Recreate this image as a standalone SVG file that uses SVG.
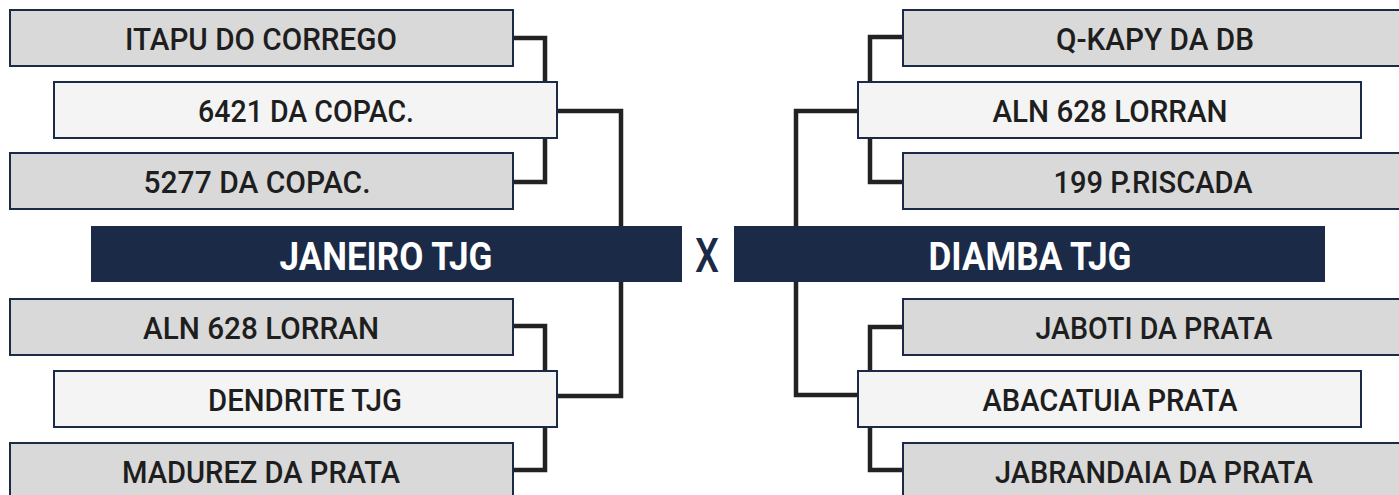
<svg xmlns="http://www.w3.org/2000/svg" width="1399" height="495" viewBox="0 0 1399 495">
<style>
.g{fill:#d9d9d9;stroke:#1b2a47;stroke-width:2}
.w{fill:#f4f4f4;stroke:#1b2a47;stroke-width:2}
.bar{fill:#1b2a47}
.t{font-family:Roboto,"Liberation Sans",sans-serif;font-weight:500;font-size:32px;fill:#1e1e1e;text-anchor:middle}
.tb{font-family:Roboto,"Liberation Sans",sans-serif;font-weight:700;font-size:39px;fill:#ffffff;text-anchor:middle}
.x{font-family:Roboto,"Liberation Sans",sans-serif;font-weight:500;font-size:48px;fill:#1b2a47;text-anchor:middle}
.c{fill:none;stroke:#222;stroke-width:4.5;stroke-linejoin:miter;stroke-linecap:butt}
</style>
<rect width="1399" height="495" fill="#ffffff"/>
<g id="connectors">
<path class="c" d="M513,38 H545 V82"/>
<path class="c" d="M513,182 H545 V138"/>
<path class="c" d="M557,111 H621 V226"/>
<path class="c" d="M621,282 V396 H557"/>
<path class="c" d="M513,326 H545 V371"/>
<path class="c" d="M513,470 H545 V427"/>
<path class="c" d="M903,37 H870 V82"/>
<path class="c" d="M903,182 H870 V138"/>
<path class="c" d="M858,111 H796 V226"/>
<path class="c" d="M796,282 V395 H858"/>
<path class="c" d="M903,327 H870 V371"/>
<path class="c" d="M903,470 H870 V427"/>
</g>
<g id="n-itapu"><rect class="g" x="10" y="10" width="503" height="56"/><text class="t" x="261" y="50" textLength="272" lengthAdjust="spacingAndGlyphs">ITAPU DO CORREGO</text></g>
<g id="n-6421"><rect class="w" x="54" y="82" width="503" height="56"/><text class="t" x="306" y="122" textLength="216" lengthAdjust="spacingAndGlyphs">6421 DA COPAC.</text></g>
<g id="n-5277"><rect class="g" x="10" y="153" width="503" height="56"/><text class="t" x="257" y="193" textLength="227" lengthAdjust="spacingAndGlyphs">5277 DA COPAC.</text></g>
<g id="n-janeiro"><rect class="bar" x="91" y="226" width="591" height="56"/><text class="tb" x="386" y="270" textLength="213" lengthAdjust="spacingAndGlyphs">JANEIRO TJG</text></g>
<g id="n-aln-left"><rect class="g" x="10" y="299" width="503" height="56"/><text class="t" x="261" y="339" textLength="236" lengthAdjust="spacingAndGlyphs">ALN 628 LORRAN</text></g>
<g id="n-dendrite"><rect class="w" x="54" y="371" width="503" height="56"/><text class="t" x="305" y="411" textLength="194" lengthAdjust="spacingAndGlyphs">DENDRITE TJG</text></g>
<g id="n-madurez"><rect class="g" x="10" y="443" width="503" height="56"/><text class="t" x="261" y="483" textLength="278" lengthAdjust="spacingAndGlyphs">MADUREZ DA PRATA</text></g>
<g id="n-x"><text class="x" x="707" y="272" textLength="24" lengthAdjust="spacingAndGlyphs">X</text></g>
<g id="n-qkapy"><rect class="g" x="903" y="10" width="504" height="56"/><text class="t" x="1155" y="50" textLength="198" lengthAdjust="spacingAndGlyphs">Q-KAPY DA DB</text></g>
<g id="n-aln-right"><rect class="w" x="858" y="82" width="503" height="56"/><text class="t" x="1110" y="122" textLength="235" lengthAdjust="spacingAndGlyphs">ALN 628 LORRAN</text></g>
<g id="n-199"><rect class="g" x="903" y="153" width="504" height="56"/><text class="t" x="1153" y="193" textLength="199" lengthAdjust="spacingAndGlyphs">199 P.RISCADA</text></g>
<g id="n-diamba"><rect class="bar" x="734" y="226" width="591" height="56"/><text class="tb" x="1030" y="270" textLength="203" lengthAdjust="spacingAndGlyphs">DIAMBA TJG</text></g>
<g id="n-jaboti"><rect class="g" x="903" y="299" width="504" height="56"/><text class="t" x="1154" y="339" textLength="237" lengthAdjust="spacingAndGlyphs">JABOTI DA PRATA</text></g>
<g id="n-abacatuia"><rect class="w" x="858" y="371" width="503" height="56"/><text class="t" x="1110" y="411" textLength="255" lengthAdjust="spacingAndGlyphs">ABACATUIA PRATA</text></g>
<g id="n-jabrandaia"><rect class="g" x="903" y="443" width="504" height="56"/><text class="t" x="1154" y="483" textLength="318" lengthAdjust="spacingAndGlyphs">JABRANDAIA DA PRATA</text></g>
</svg>
